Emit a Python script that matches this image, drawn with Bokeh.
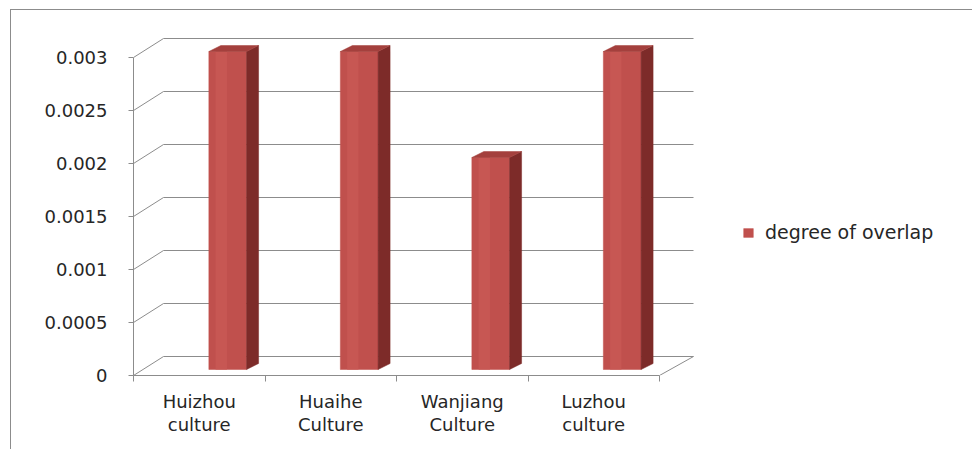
from bokeh.plotting import figure
from bokeh.models import FixedTicker, Legend, LegendItem, Range1d
from bokeh.embed import file_html
from bokeh.resources import INLINE

# ---------------- data ----------------
categories = ["Huizhou\nculture", "Huaihe\nCulture", "Wanjiang\nCulture", "Luzhou\nculture"]
values = [0.003, 0.003, 0.002, 0.003]
series_name = "degree of overlap"
y_ticks = [0, 0.0005, 0.001, 0.0015, 0.002, 0.0025, 0.003]
y_tick_labels = ["0", "0.0005", "0.001", "0.0015", "0.002", "0.0025", "0.003"]

# ---------------- geometry (pixel scale of the axes) ----------------
W, H = 962, 440            # canvas (page offset 11, 10 due to border/margin)
BORDER_L, BORDER_T, BORDER_B = 122, 20, 75
PX_X = 131.5               # pixels per category
PX_Y = 106000.0            # pixels per unit of value
frame_w = W - BORDER_L
frame_h = H - BORDER_T - BORDER_B

n = len(categories)
x0 = -0.5
x_end = x0 + frame_w / PX_X
y_end = frame_h / PX_Y

# 3D offsets converted to data units
WALL_DX = 30 / PX_X
WALL_DY = 19 / PX_Y
WALL_K = 529 / 525         # slight perspective of the back wall
BAR_X0, BAR_X1 = 0.073, 0.36
BAR_BASE = 6 / PX_Y
BAR_DX = 12 / PX_X
BAR_DY = 6 / PX_Y
HL0, HL1 = 0.18, 0.48      # lighter band on the front face (fraction of width)

GRID = "#8c8c8c"
TEXT = "#262626"
FONT = "DejaVu Sans"
FS = "18px"
FRONT = "#C0504D"
FRONT_HL = "#C75753"
SIDE = "#7D2B29"
TOP = "#A4403D"

p = figure(width=W, height=H, x_range=Range1d(x0, x_end), y_range=Range1d(0, y_end),
           min_border_left=BORDER_L, min_border_right=0, min_border_top=BORDER_T,
           min_border_bottom=BORDER_B, output_backend="svg", toolbar_location=None,
           title=None)
p.margin = (9, 0, 0, 10)
p.styles = {"border-top": "1px solid #8c8c8c", "border-left": "1px solid #8c8c8c"}
p.xgrid.visible = False
p.ygrid.visible = False
p.outline_line_color = None
p.background_fill_color = "white"
p.border_fill_color = "white"

# ---------------- walls / floor ----------------
def back_x(fx):
    return x0 + WALL_DX + (fx - x0) * WALL_K

right_front = x0 + n
gx, gy = [], []
for v in y_ticks:
    gx.append([x0, back_x(x0), back_x(right_front)])
    gy.append([v, v + WALL_DY, v + WALL_DY])
p.multi_line(gx, gy, line_color=GRID, line_width=1)
# floor right edge
p.line([right_front, back_x(right_front)], [0, WALL_DY], line_color=GRID, line_width=1)

# ---------------- bars ----------------
fx, fy, hx, hy, sx, sy, tx, ty = [], [], [], [], [], [], [], []
for i, v in enumerate(values):
    a, b = i + BAR_X0, i + BAR_X1
    top = BAR_BASE + v
    fx.append([a, b, b, a]); fy.append([BAR_BASE, BAR_BASE, top, top])
    ha, hb = a + (b - a) * HL0, a + (b - a) * HL1
    hx.append([ha, hb, hb, ha]); hy.append([BAR_BASE, BAR_BASE, top, top])
    sx.append([b, b + BAR_DX, b + BAR_DX, b]); sy.append([BAR_BASE, BAR_BASE + BAR_DY, top + BAR_DY, top])
    tx.append([a, a + BAR_DX, b + BAR_DX, b]); ty.append([top, top + BAR_DY, top + BAR_DY, top])

front = p.patches(fx, fy, fill_color=FRONT, line_color=FRONT, line_width=0.5)
p.patches(hx, hy, fill_color=FRONT_HL, line_color=None)
p.patches(sx, sy, fill_color=SIDE, line_color=SIDE, line_width=0.5)
p.patches(tx, ty, fill_color=TOP, line_color=TOP, line_width=0.5)

# ---------------- axes ----------------
ya = p.yaxis[0]
ya.ticker = FixedTicker(ticks=y_ticks)
ya.major_label_overrides = dict(zip(y_ticks, y_tick_labels))
ya.bounds = (y_ticks[0], y_ticks[-1])
ya.axis_line_color = GRID
ya.major_tick_line_color = GRID
ya.major_tick_out = 5
ya.major_tick_in = 0
ya.minor_tick_out = 0
ya.minor_tick_in = 0
ya.major_label_standoff = 21
ya.major_label_text_font = FONT
ya.major_label_text_font_size = FS
ya.major_label_text_color = TEXT

xa = p.xaxis[0]
centers = list(range(n))
xa.ticker = FixedTicker(ticks=centers, minor_ticks=[c - 0.5 for c in centers] + [n - 0.5])
xa.major_label_overrides = dict(zip(centers, categories))
xa.bounds = (x0, x0 + n)
xa.axis_line_color = GRID
xa.major_tick_out = 0
xa.major_tick_in = 0
xa.minor_tick_line_color = GRID
xa.minor_tick_out = 6
xa.minor_tick_in = 0
xa.major_label_standoff = 9
xa.major_label_text_font = FONT
xa.major_label_text_font_size = FS
xa.major_label_text_color = TEXT
xa.major_label_text_line_height = 1.12

# ---------------- legend ----------------
legend = Legend(items=[LegendItem(label=series_name, renderers=[front])],
                location=(609, 132), padding=0, margin=0, spacing=0,
                glyph_width=12, glyph_height=11, label_standoff=11, label_height=20,
                border_line_color=None, background_fill_alpha=0,
                label_text_font=FONT, label_text_font_size="19px", label_text_color=TEXT)
p.add_layout(legend)

open("out.html", "w").write(file_html(p, INLINE))
